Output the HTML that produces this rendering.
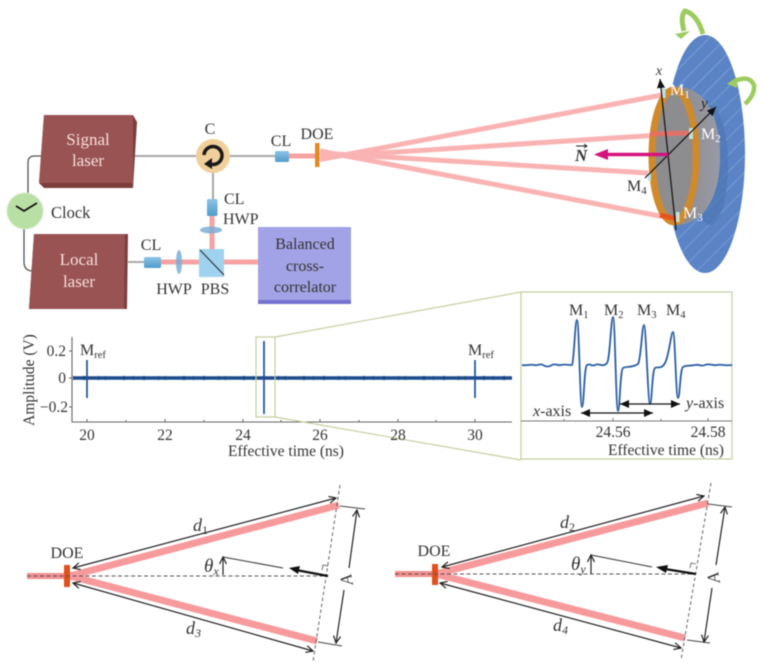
<!DOCTYPE html>
<html><head><meta charset="utf-8"><style>
html,body{margin:0;padding:0;background:#fff;width:763px;height:671px;overflow:hidden}
svg{display:block;filter:blur(.55px)}
text{font-family:"Liberation Serif",serif;fill:#333}
</style></head><body>
<svg width="763" height="671" viewBox="0 0 763 671" xmlns="http://www.w3.org/2000/svg">
<defs>
<pattern id="h" width="12" height="12" patternUnits="userSpaceOnUse" patternTransform="rotate(-45)">
<rect width="12" height="12" fill="#5a84c6"/><rect width="12" height=".8" fill="#7ea2d6"/>
</pattern>
<marker id="a" markerWidth="9" markerHeight="8" refX="8" refY="4" orient="auto-start-reverse" markerUnits="userSpaceOnUse"><path d="M1 .5L8 4L1 7.500" fill="none" stroke="#222" stroke-width="1.200"/></marker>
<marker id="b" markerWidth="10" markerHeight="8" refX="9" refY="4" orient="auto-start-reverse" markerUnits="userSpaceOnUse"><path d="M0 0L9 4L0 8z" fill="#111"/></marker>
<linearGradient id="cl" x1="0" y1="0" x2="0" y2="1"><stop offset="0" stop-color="#8cc4e6"/><stop offset="1" stop-color="#4f9ccb"/></linearGradient>
<linearGradient id="cyl" x1="0" y1="0" x2="1" y2="0"><stop offset="0" stop-color="#8a8a8c"/><stop offset="1" stop-color="#9a9aa6"/></linearGradient>
</defs>

<!-- connecting wires -->
<path d="M42 156H34Q28 156 28 163V194M24 228V262Q24 271 33 271" fill="none" stroke="#555" stroke-width="1.300"/>
<path d="M133 156H275M213 172V200M128 262H144" stroke="#a8a8a8" stroke-width="2" fill="none"/>

<!-- lasers -->
<path d="M44 115H133L137 122L133 188H44L39 183z" fill="#7d3d3d"/>
<path d="M44 115H133L133 183H39z" fill="#995353"/>
<path d="M34 234H128L127 309H29z" fill="#7d3d3d"/>
<path d="M34 234H125L124 309H29z" fill="#995353"/>
<text x="88" y="145" font-size="17" text-anchor="middle" style="fill:#f6e0dc">Signal</text>
<text x="88" y="166" font-size="17" text-anchor="middle" style="fill:#f6e0dc">laser</text>
<text x="79" y="265" font-size="17" text-anchor="middle" style="fill:#f6e0dc">Local</text>
<text x="79" y="287" font-size="17" text-anchor="middle" style="fill:#f6e0dc">laser</text>

<!-- clock -->
<circle cx="25" cy="211" r="18" fill="#b9e0a4" stroke="#d6e8cc"/>
<path d="M16 206L24 211L37 203" fill="none" stroke="#111" stroke-width="1.800"/>
<text x="51" y="218" font-size="16.500">Clock</text>

<!-- beams -->
<path d="M289 156H317M212 216V249M161 262H258" stroke="#f7a3a3" stroke-width="5" fill="none"/>
<g stroke="#f9a0a0" stroke-width="5" fill="none" opacity=".8">
<path d="M320 159.500L662 95"/><path d="M320 157L690 133"/><path d="M320 153L648 173"/><path d="M320 151L665 217"/>
</g>

<!-- circulator -->
<circle cx="213" cy="156" r="17" fill="#f0cf9b"/>
<path d="M204 155A9 9 0 1 1 210 164" fill="none" stroke="#1a1a1a" stroke-width="3.500"/>
<path d="M204 164L212 158V169z" fill="#1a1a1a"/>
<text x="210" y="134" font-size="16" text-anchor="middle">C</text>

<!-- optics -->
<rect x="275" y="151" width="14" height="11" rx="1.500" fill="url(#cl)"/>
<rect x="315" y="143" width="4.500" height="24" fill="#e58b1e"/>
<text x="281" y="146" font-size="16" text-anchor="middle">CL</text>
<text x="317" y="139" font-size="16" text-anchor="middle">DOE</text>
<rect x="207" y="199" width="10.500" height="17" rx="1.500" fill="url(#cl)"/>
<text x="224" y="204" font-size="16">CL</text>
<text x="223" y="224" font-size="16">HWP</text>
<ellipse cx="211" cy="230" rx="11" ry="3.500" fill="#7aaed5" opacity=".85"/>
<rect x="144" y="257" width="17" height="11" rx="1.500" fill="url(#cl)"/>
<text x="151" y="250" font-size="16" text-anchor="middle">CL</text>
<ellipse cx="179" cy="262" rx="3" ry="12" fill="#7aaed5" opacity=".85"/>
<rect x="199" y="249" width="25" height="28" fill="#9fd2ee"/>
<path d="M200 250L224 275" stroke="#222" stroke-width="1"/>
<text x="174" y="294" font-size="16" text-anchor="middle">HWP</text>
<text x="215" y="294" font-size="16" text-anchor="middle">PBS</text>

<!-- correlator -->
<rect x="258" y="227" width="93" height="77" fill="#a2a2e6"/>
<rect x="258" y="300" width="93" height="4" fill="#7474cf"/>
<text x="305" y="249" font-size="16" text-anchor="middle">Balanced</text>
<text x="305" y="271" font-size="16" text-anchor="middle">cross-</text>
<text x="305" y="292" font-size="16" text-anchor="middle">correlator</text>

<!-- target -->
<ellipse cx="705" cy="154" rx="40" ry="119" fill="url(#h)"/>
<ellipse cx="710" cy="165" rx="18" ry="60" fill="#4d76b4" opacity=".7"/>
<path d="M674 87C700 84 720 110 720 156C720 200 702 226 674 225z" fill="url(#cyl)"/>
<ellipse cx="674" cy="156" rx="22" ry="66" fill="#8d8d8f" stroke="#cf8a2c" stroke-width="7"/>
<path d="M650 134L690 133" stroke="#ea6f66" stroke-width="5" opacity=".9"/>
<path d="M660 215L677 219" stroke="#e8541e" stroke-width="5"/>
<g fill="#bfe3e0"><rect x="662" y="87" width="3.500" height="11"/><rect x="689" y="128" width="4" height="11"/><rect x="676" y="212" width="3.500" height="10"/><rect x="648" y="172" width="3" height="9"/></g>
<path d="M676 230L660 79" stroke="#111" stroke-width="1.200" marker-end="url(#b)"/>
<path d="M645 178L716 107" stroke="#111" stroke-width="1.200" marker-end="url(#b)"/>
<path d="M668 154.500H606" stroke="#d4147e" stroke-width="3.500"/>
<path d="M594 154.500L608 149V160z" fill="#d4147e"/>
<path d="M703 34Q697 14 685 11Q680 16 684 31" fill="none" stroke="#9ccb5e" stroke-width="5"/>
<path d="M675 34L690 31L681 39z" fill="#9ccb5e"/>
<path d="M733 82Q749 74 754 85Q755 95 745 104" fill="none" stroke="#9ccb5e" stroke-width="4.500"/>
<path d="M727 84L737 77V88z" fill="#9ccb5e"/>
<text x="659" y="75" font-size="14" font-style="italic" text-anchor="middle">x</text>
<text x="701" y="108" font-size="15" font-style="italic" style="fill:#222">y</text>
<text x="670" y="95" font-size="16" style="fill:#fff">M<tspan font-size="11" dy="3">1</tspan></text>
<text x="701" y="139" font-size="16" style="fill:#fff">M<tspan font-size="11" dy="3">2</tspan></text>
<text x="683" y="218" font-size="16" style="fill:#fff">M<tspan font-size="11" dy="3">3</tspan></text>
<text x="627" y="191" font-size="16">M<tspan font-size="11" dy="3">4</tspan></text>
<text x="575" y="161" font-size="17" font-style="italic" font-weight="bold">N</text>
<path d="M576 146H587M584 144L587 146L584 148" fill="none" stroke="#222" stroke-width=".9"/>

<!-- main plot -->
<path d="M72 337V422H512" fill="none" stroke="#666" stroke-width="1.100"/>
<path d="M72 351H69M72 378H69M72 407H69M87 422v-3M126 422v-2M165 422v-3M204 422v-2M243 422v-3M281 422v-2M320 422v-3M359 422v-2M398 422v-3M436 422v-2M475 422v-3" stroke="#666" fill="none"/>
<path d="M73 378H512" stroke="#1d4a8c" stroke-width="3.500"/>
<path d="M73 378H512" stroke="#14407f" stroke-width="4.600" stroke-dasharray="1 9 2 13 1 6 1 17 2 8" opacity=".6"/>
<path d="M87 360V398M475 360V398M264 341V414" stroke="#1b5099" stroke-width="1.700"/>
<path d="M256 337H275V417H256z" fill="none" stroke="#c5cfa0" stroke-width="1.200"/>
<path d="M275 337L521 292M275 417L521 460" stroke="#c5cfa0" stroke-width="1.200"/>
<g font-size="15.500">
<text x="66" y="356" text-anchor="end">0.2</text>
<text x="66" y="383" text-anchor="end">0</text>
<text x="68" y="412" text-anchor="end">−0.2</text>
<text x="87" y="440" text-anchor="middle">20</text>
<text x="165" y="440" text-anchor="middle">22</text>
<text x="243" y="440" text-anchor="middle">24</text>
<text x="320" y="440" text-anchor="middle">26</text>
<text x="398" y="440" text-anchor="middle">28</text>
<text x="475" y="440" text-anchor="middle">30</text>
<text x="286" y="456" text-anchor="middle">Effective time (ns)</text>
<text transform="translate(34 380) rotate(-90)" text-anchor="middle">Amplitude (V)</text>
</g>
<text x="80" y="355" font-size="16">M<tspan font-size="10.500" dy="3">ref</tspan></text>
<text x="468" y="355" font-size="16">M<tspan font-size="10.500" dy="3">ref</tspan></text>

<!-- inset -->
<rect x="521" y="292" width="211" height="167" fill="#fff" stroke="#c5cfa0" stroke-width="1.200"/>
<path d="M522 365C526 366 530 364 534 365S540 363 543 365S549 367 552 365S558 366 561 365S567 365 572 365C574 362 575 320 577 320C579 320 580 407 582 407C584 407 584 367 587 365C590 363 592 367 595 365S601 366 604 365S606 364 607 363C610 360 611 317 613 317C615 317 616 411 618 411C620 411 620 370 623 368C626 366 632 368 638 364C641 360 642 325 644 325C646 325 648 404 650 404C652 404 652 370 655 368C658 366 661 370 665 363C669 356 671 332 673 332C675 332 676 398 678 398C680 398 680 369 683 367C686 365 690 366 695 365S701 367 705 365S713 366 717 365S726 366 732 365" fill="none" stroke="#2a5ea4" stroke-width="1.800"/>
<path d="M521 421H732" stroke="#777" stroke-width="1"/>
<path d="M564 421v-2M613 421v-3M661 421v-2M708 421v-3" stroke="#777" fill="none"/>
<path d="M581 413H653" stroke="#111" stroke-width="1.200" marker-start="url(#b)" marker-end="url(#b)"/>
<path d="M620 404H680" stroke="#111" stroke-width="1.200" marker-start="url(#b)" marker-end="url(#b)"/>
<g font-size="16">
<text x="569" y="315">M<tspan font-size="10.500" dy="3">1</tspan></text>
<text x="604" y="315">M<tspan font-size="10.500" dy="3">2</tspan></text>
<text x="637" y="315">M<tspan font-size="10.500" dy="3">3</tspan></text>
<text x="666" y="315">M<tspan font-size="10.500" dy="3">4</tspan></text>
<text x="533" y="416"><tspan font-style="italic">x</tspan>-axis</text>
<text x="686" y="408"><tspan font-style="italic">y</tspan>-axis</text>
</g>
<g font-size="15.500">
<text x="613" y="437" text-anchor="middle">24.56</text>
<text x="708" y="437" text-anchor="middle">24.58</text>
<text x="666" y="455" text-anchor="middle">Effective time (ns)</text>
</g>

<!-- lower left -->
<g fill="none">
<path d="M27 576H70" stroke="#f48f8f" stroke-width="6"/>
<path d="M70 576L339 505M70 576L317 641" stroke="#f79a9c" stroke-width="7"/>
<rect x="64" y="565" width="6" height="22" fill="#e0501c"/>
<path d="M27 576H328" stroke="#555" stroke-width=".9" stroke-dasharray="4 2.500"/>
<path d="M340 485L313 662" stroke="#555" stroke-width=".9" stroke-dasharray="3.500 2.500"/>
<path d="M73 568L336 498" stroke="#222" stroke-width="1.200" marker-start="url(#a)" marker-end="url(#a)"/>
<path d="M73 583L313 651" stroke="#222" stroke-width="1.200" marker-start="url(#a)" marker-end="url(#a)"/>
<path d="M340 506L365 509M318 642L342 646" stroke="#444" stroke-width="1"/>
<path d="M357 510L349 568" stroke="#222" stroke-width="1.200" marker-start="url(#a)"/>
<path d="M344 590L336 643" stroke="#222" stroke-width="1.200" marker-end="url(#a)"/>
<path d="M328 576L296 570" stroke="#111" stroke-width="2.200"/>
<path d="M289 568L300 566L298 574z" fill="#111"/>
<path d="M283 568L223 557" stroke="#333" stroke-width="1"/>
<path d="M223 575V557" stroke="#222" stroke-width="1.200" marker-end="url(#a)"/>
<path d="M322 570l1 -5l5 1" stroke="#555" stroke-width=".8"/>
</g>
<text x="67" y="558" font-size="16" text-anchor="middle">DOE</text>
<text x="193" y="531" font-size="18" font-style="italic">d<tspan font-size="12" dy="3" font-style="normal">1</tspan></text>
<text x="186" y="634" font-size="18" font-style="italic">d<tspan font-size="12" dy="3">3</tspan></text>
<text x="204" y="572" font-size="19" font-style="italic">θ<tspan font-size="12" dy="3">x</tspan></text>
<text transform="translate(352 579) rotate(-100)" font-size="17" font-style="italic" text-anchor="middle">A</text>

<!-- lower right -->
<g fill="none">
<path d="M395 574H436" stroke="#f48f8f" stroke-width="6"/>
<path d="M436 574L708 503M436 574L685 638" stroke="#f79a9c" stroke-width="7"/>
<rect x="432" y="564" width="6" height="21" fill="#e0501c"/>
<path d="M395 574H696" stroke="#555" stroke-width=".9" stroke-dasharray="4 2.500"/>
<path d="M711 483L681 660" stroke="#555" stroke-width=".9" stroke-dasharray="3.500 2.500"/>
<path d="M442 567L704 496" stroke="#222" stroke-width="1.200" marker-start="url(#a)" marker-end="url(#a)"/>
<path d="M440 583L681 648" stroke="#222" stroke-width="1.200" marker-start="url(#a)" marker-end="url(#a)"/>
<path d="M708 504L732 507M687 640L710 643" stroke="#444" stroke-width="1"/>
<path d="M725 507L716 565" stroke="#222" stroke-width="1.200" marker-start="url(#a)"/>
<path d="M712 588L704 642" stroke="#222" stroke-width="1.200" marker-end="url(#a)"/>
<path d="M696 574L665 569" stroke="#111" stroke-width="2.200"/>
<path d="M656 567L668 565L666 573z" fill="#111"/>
<path d="M652 567L591 555" stroke="#333" stroke-width="1"/>
<path d="M591 574V555" stroke="#222" stroke-width="1.200" marker-end="url(#a)"/>
<path d="M690 568l1 -5l5 1" stroke="#555" stroke-width=".8"/>
</g>
<text x="434" y="556" font-size="16" text-anchor="middle">DOE</text>
<text x="560" y="528" font-size="18" font-style="italic">d<tspan font-size="12" dy="3" font-style="normal">2</tspan></text>
<text x="553" y="631" font-size="18" font-style="italic">d<tspan font-size="12" dy="3">4</tspan></text>
<text x="571" y="570" font-size="19" font-style="italic">θ<tspan font-size="12" dy="3">y</tspan></text>
<text transform="translate(719 577) rotate(-100)" font-size="17" font-style="italic" text-anchor="middle">A</text>
</svg>
</body></html>
